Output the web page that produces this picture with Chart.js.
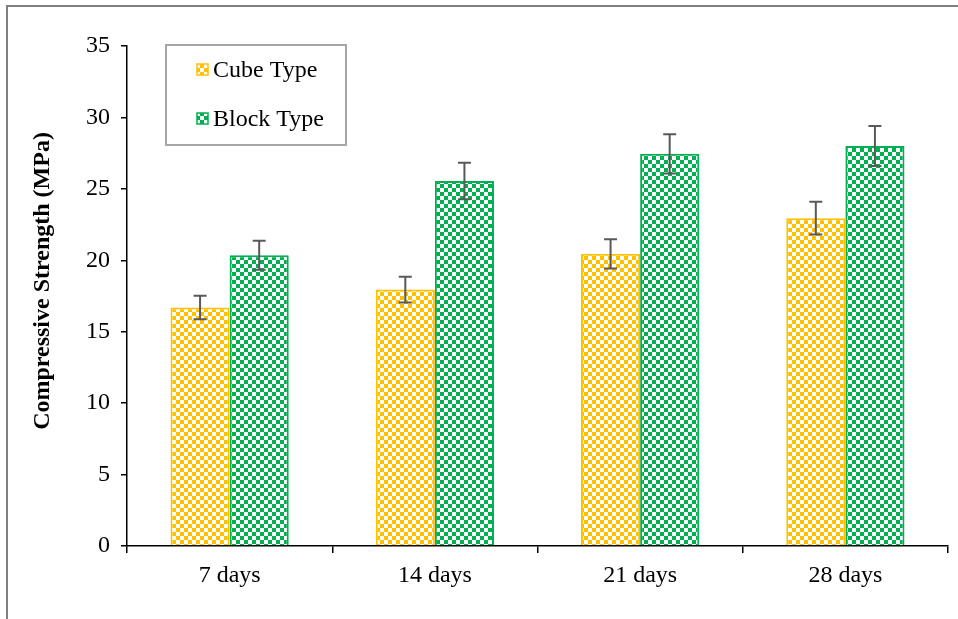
<!DOCTYPE html>
<html>
<head>
<meta charset="utf-8">
<script src="https://cdn.jsdelivr.net/npm/chart.js@4.4.1/dist/chart.umd.min.js"></script>
<style>
  html, body { margin: 0; padding: 0; background: #fff; overflow: hidden; }
  #wrap { position: relative; width: 958px; height: 619px; }
  #frame { position: absolute; left: 6px; top: 5px; width: 1000px; height: 700px;
           border-left: 2px solid #808080; border-top: 2px solid #808080; }
  #chart { position: absolute; left: 0; top: 0; }
</style>
</head>
<body>
<div id="wrap">
  <div id="frame"></div>
  <canvas id="chart" width="958" height="619"></canvas>
</div>
<script>
// Curing ages and measured compressive strengths (MPa)
const categories = ['7 days', '14 days', '21 days', '28 days'];
const cubeValues = [16.7, 17.95, 20.45, 22.95];
const blockValues = [20.35, 25.55, 27.45, 28.0];
// Standard deviation shown as error bars
const cubeErrors = [0.82, 0.9, 1.02, 1.15];
const blockErrors = [1.02, 1.27, 1.37, 1.4];
const yTicks = [0, 5, 10, 15, 20, 25, 30, 35];

const seriesNames = ['Cube Type', 'Block Type'];
const seriesColors = ['#FFC000', '#00B050'];
const FONT = '"Liberation Serif", "Times New Roman", serif';

const ctx = document.getElementById('chart').getContext('2d');

// Checkerboard fills: coloured 4px squares on white
const patterns = seriesColors.map(c => {
  const cv = document.createElement('canvas');
  cv.width = 8; cv.height = 8;
  const g = cv.getContext('2d');
  g.fillStyle = '#ffffff'; g.fillRect(0, 0, 8, 8);
  g.fillStyle = c; g.fillRect(0, 0, 4, 4); g.fillRect(4, 4, 4, 4);
  return ctx.createPattern(cv, 'repeat');
});

// Error bars drawn through the chart's own scales
const errorBars = {
  id: 'errorBars',
  afterDatasetsDraw(chart) {
    const c = chart.ctx;
    const y = chart.scales.y;
    const errs = [cubeErrors, blockErrors];
    c.save();
    c.strokeStyle = '#595959';
    c.lineWidth = 2;
    chart.data.datasets.forEach((ds, di) => {
      chart.getDatasetMeta(di).data.forEach((bar, i) => {
        const v = ds.data[i];
        const e = errs[di][i];
        const top = y.getPixelForValue(v + e);
        const bot = y.getPixelForValue(v - e);
        const x = bar.x;
        c.beginPath();
        c.moveTo(x, top); c.lineTo(x, bot);
        c.moveTo(x - 6.5, top); c.lineTo(x + 6.5, top);
        c.moveTo(x - 6.5, bot); c.lineTo(x + 6.5, bot);
        c.stroke();
      });
    });
    c.restore();
  }
};

// Boxed legend and rotated axis title
const decorations = {
  id: 'decorations',
  afterDraw(chart) {
    const c = chart.ctx;
    c.save();
    c.strokeStyle = '#A6A6A6';
    c.lineWidth = 2;
    c.strokeRect(166, 45, 180, 100);
    c.font = '24px ' + FONT;
    c.textBaseline = 'middle';
    c.textAlign = 'left';
    const rows = [70, 119];
    seriesNames.forEach((name, i) => {
      const yy = rows[i];
      c.fillStyle = patterns[i];
      c.fillRect(197, yy - 6, 11, 11);
      c.strokeStyle = seriesColors[i];
      c.lineWidth = 1.5;
      c.strokeRect(197, yy - 6, 11, 11);
      c.fillStyle = '#000';
      c.fillText(name, 213, yy + 1);
    });
    c.translate(43, 281);
    c.rotate(-Math.PI / 2);
    c.textAlign = 'center';
    c.font = 'bold 24px ' + FONT;
    c.fillText('Compressive Strength (MPa)', 0, 0);
    c.restore();
  }
};

new Chart(ctx, {
  type: 'bar',
  data: {
    labels: categories,
    datasets: [
      { label: seriesNames[0], data: cubeValues, backgroundColor: patterns[0],
        borderColor: seriesColors[0], borderWidth: 2 },
      { label: seriesNames[1], data: blockValues, backgroundColor: patterns[1],
        borderColor: seriesColors[1], borderWidth: 2 }
    ]
  },
  options: {
    responsive: false,
    animation: false,
    events: [],
    layout: { padding: { top: 46, right: 10, bottom: 0, left: 0 } },
    categoryPercentage: 0.576,
    barPercentage: 1.0,
    plugins: { legend: { display: false }, tooltip: { enabled: false } },
    scales: {
      x: {
        grid: { offset: true, drawOnChartArea: false, drawTicks: true, tickLength: 7, color: '#000', lineWidth: 1.5 },
        border: { color: '#000', width: 1.5 },
        ticks: { color: '#000', font: { family: FONT, size: 24 }, padding: 8 },
        afterFit(s) { s.height = 73; }
      },
      y: {
        min: 0, max: 35,
        afterBuildTicks(s) { s.ticks = yTicks.map(v => ({ value: v })); },
        grid: { drawOnChartArea: false, drawTicks: true, tickLength: 6, color: '#000', lineWidth: 1.5 },
        border: { color: '#000', width: 1.5 },
        ticks: { color: '#000', font: { family: FONT, size: 24 }, padding: 11 },
        afterFit(s) { s.width = 127; }
      }
    }
  },
  plugins: [errorBars, decorations]
});
</script>
</body>
</html>
